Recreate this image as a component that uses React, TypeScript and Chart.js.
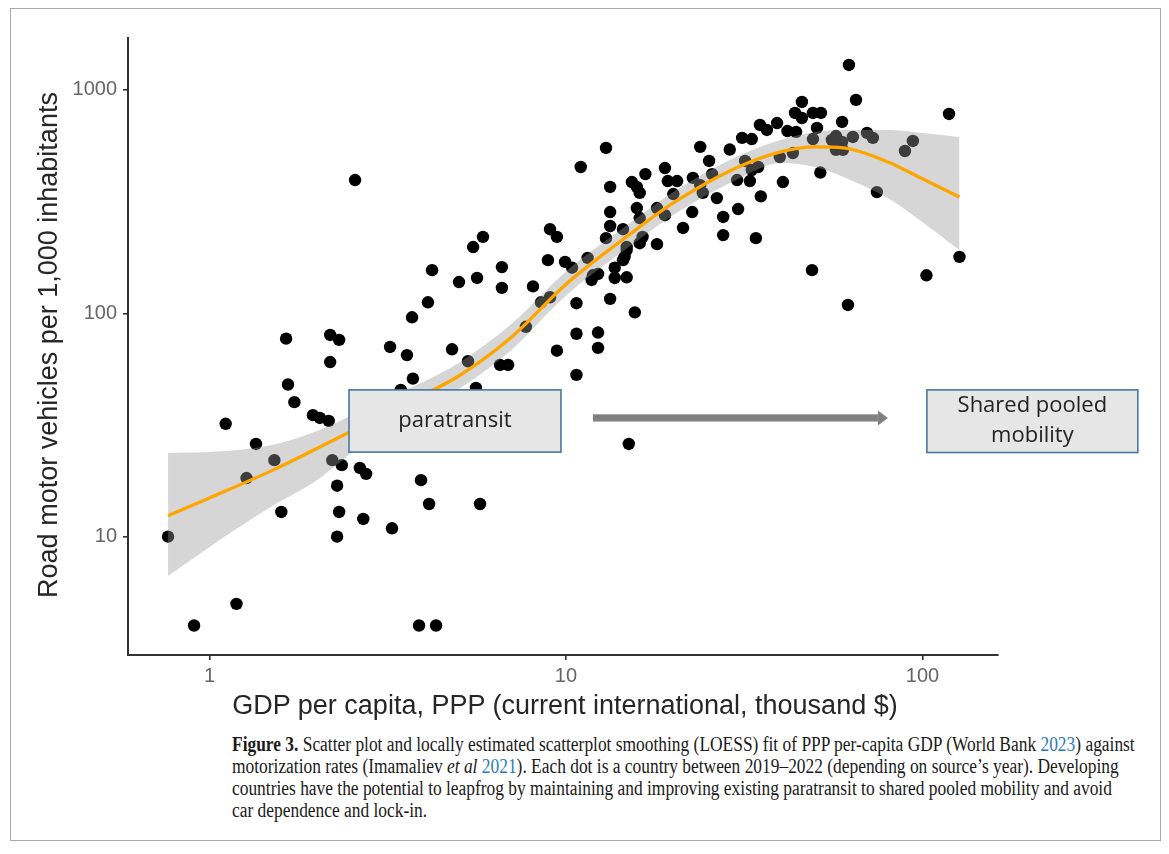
import React, { useEffect, useLayoutEffect, useRef, useState } from 'react';
import { Chart, registerables } from 'chart.js';

Chart.register(...registerables);

// GDP per capita, PPP (thousand $) for each country
const gdp = [
  0.765, 0.905, 1.19, 1.11, 1.35, 1.52, 1.27, 1.59, 1.64, 1.66,
  1.73, 1.95, 2.04, 2.16, 2.18, 2.31, 2.18, 2.28, 2.31, 2.28,
  2.21, 2.35, 2.64, 2.75, 2.7, 3.25, 3.21, 3.58, 3.7, 3.72,
  3.92, 4.13, 5.74, 3.87, 4.32, 4.1, 4.21, 2.56, 3.44, 4.79,
  5.31, 6.53, 6.88, 5.59, 5.01, 5.63, 5.49, 5.85, 6.61, 6.61,
  8.9, 9.94, 10.4, 9.02, 9.43, 8.08, 7.72, 8.51, 9.02, 9.43,
  10.7, 10.7, 10.7, 12.3, 12.3, 15.0, 11.5, 11.9, 12.3, 13.3,
  13.7, 14.8, 12.95, 13.3, 13.3, 14.45, 14.8, 14.45, 12.95, 11.0,
  13.3, 15.8, 16.1, 15.3, 15.8, 16.1, 16.7, 18.95, 19.3, 20.5,
  18.0, 18.95, 16.4, 16.1, 18.0, 14.8, 14.6, 11.8, 15.6, 20.0,
  21.3, 22.6, 22.7, 23.8, 24.2, 25.7, 26.5, 23.8, 25.2, 28.8,
  31.2, 33.2, 35.0, 36.6, 39.1, 41.8, 44.2, 45.9, 43.9, 45.9,
  49.3, 51.9, 50.6, 59.5, 62.2, 65.1, 118.7, 49.3, 57.2, 55.7,
  59.5, 63.8, 69.9, 72.6, 94.0, 89.3, 57.2, 59.8, 43.3, 39.8,
  31.8, 30.2, 33.2, 34.6, 32.8, 40.6, 35.2, 30.4, 27.6, 27.6,
  34.1, 51.7, 74.5, 127, 49.0, 102.6, 61.8, 13.7,
];

// Road motor vehicles per 1,000 inhabitants (same order as gdp)
const vehicles = [
  10, 4.0, 5.0, 32, 26, 22, 18.3, 12.9, 77, 48,
  40, 35, 34, 33, 80, 76, 60.5, 16.9, 12.9, 10.0,
  22, 20.9, 20.3, 19.1, 12.0, 10.9, 70.7, 65, 96, 51,
  17.9, 14.0, 14.0, 4.0, 4.0, 112, 156, 395, 45.4, 69,
  61, 58.7, 58.7, 46.3, 138, 144, 198, 220, 161, 130,
  173, 170, 160, 238, 220, 132, 87, 112, 118, 68,
  81, 53, 111, 82, 70, 26, 177, 148, 150, 116,
  144, 145, 217, 284, 246, 238, 192, 173, 550, 452,
  368, 296, 267, 387, 368, 346, 420, 447, 391, 391,
  296, 275, 220, 206, 204, 198, 179, 141, 101, 342,
  241, 284, 404, 375, 346, 420, 328, 556, 481, 541,
  610, 603, 697, 662, 711, 655, 649, 884, 789, 749,
  789, 789, 676, 719, 1294, 902, 781, 603, 622, 597,
  585, 616, 642, 610, 591, 533, 539, 539, 522, 501,
  481, 395, 438, 452, 391, 387, 334, 293, 270, 224,
  217, 427, 349, 179, 156, 148, 109, 160,
];

// LOESS fit and confidence band
const loessGdp = [0.765, 1, 1.5, 2, 3, 4, 5, 7, 10, 15, 20, 30, 40, 50, 60, 80, 100, 127];
const loessFit = [12.4, 14.9, 19.8, 24.8, 34.3, 43.3, 52.4, 77.8, 135, 224, 312, 447, 528, 556, 550, 476, 400, 332];
const loessLow = [6.66, 8.99, 13.7, 17.9, 29.7, 37.9, 45.8, 68.1, 120, 198, 275.5, 395, 471, 452, 408, 328, 256, 192];
const loessHigh = [23.7, 23.9, 25.7, 29.7, 40.1, 49.5, 59.9, 89, 154, 251, 349, 501, 597, 649, 662, 662, 642, 616];

const xTickValues = [1, 10, 100];
const yTickValues = [10, 100, 1000];

const SANS = '"Liberation Sans", Arial, sans-serif';
const SERIF = '"Liberation Serif", "Times New Roman", serif';
const BOXFONT = '"Open Sans", "Noto Sans", sans-serif';

const annotationPlugin = {
  id: 'leapfrogAnnotations',
  afterDraw(chart: any) {
    const { ctx } = chart;
    const xs = chart.scales.x;
    const ys = chart.scales.y;
    const px = (v: number) => xs.getPixelForValue(v);
    const py = (v: number) => ys.getPixelForValue(v);
    ctx.save();

    const drawBox = (x0: number, x1: number, yTop: number, yBot: number, lines: string[]) => {
      const l = px(x0), r = px(x1), t = py(yTop), b = py(yBot);
      ctx.fillStyle = '#e6e6e6';
      ctx.fillRect(l, t, r - l, b - t);
      ctx.strokeStyle = '#4a77a3';
      ctx.lineWidth = 1.6;
      ctx.strokeRect(l, t, r - l, b - t);
      ctx.fillStyle = '#222222';
      ctx.font = `22px ${BOXFONT}`;
      ctx.textAlign = 'center';
      ctx.textBaseline = 'middle';
      const cx = (l + r) / 2;
      const cy = (t + b) / 2;
      const lh = 30;
      lines.forEach((s, i) => {
        ctx.fillText(s, cx, cy + (i - (lines.length - 1) / 2) * lh);
      });
    };

    drawBox(2.462, 9.68, 45.4, 23.9, ['paratransit']);
    drawBox(102.9, 402, 45.4, 23.8, ['Shared pooled', 'mobility']);

    // arrow
    const ax0 = px(11.9), ax1 = px(80), ay = py(34);
    const headLen = 10, headHalf = 7.5, shaft = 3.6;
    ctx.fillStyle = '#808080';
    ctx.fillRect(ax0, ay - shaft, ax1 - headLen - ax0, shaft * 2);
    ctx.beginPath();
    ctx.moveTo(ax1 - headLen, ay - headHalf);
    ctx.lineTo(ax1, ay);
    ctx.lineTo(ax1 - headLen, ay + headHalf);
    ctx.closePath();
    ctx.fill();

    ctx.restore();
  },
};

function ChartCanvas() {
  const ref = useRef<HTMLCanvasElement | null>(null);
  useEffect(() => {
    if (!ref.current) return;
    const pts = gdp.map((x, i) => ({ x, y: vehicles[i] }));
    const series = (arr: number[]) => loessGdp.map((x, i) => ({ x, y: arr[i] }));
    const chart = new Chart(ref.current, {
      type: 'scatter',
      data: {
        datasets: [
          {
            type: 'line',
            label: 'LOESS',
            data: series(loessFit),
            borderColor: '#FFA500',
            borderWidth: 3.3,
            pointRadius: 0,
            cubicInterpolationMode: 'monotone',
            fill: false,
            order: 0,
          } as any,
          {
            type: 'line',
            label: 'low',
            data: series(loessLow),
            borderColor: 'rgba(0,0,0,0)',
            borderWidth: 0,
            pointRadius: 0,
            cubicInterpolationMode: 'monotone',
            fill: false,
            order: 1,
          } as any,
          {
            type: 'line',
            label: 'high',
            data: series(loessHigh),
            borderColor: 'rgba(0,0,0,0)',
            borderWidth: 0,
            pointRadius: 0,
            cubicInterpolationMode: 'monotone',
            fill: '-1',
            backgroundColor: 'rgba(153,153,153,0.4)',
            order: 1,
          } as any,
          {
            type: 'scatter',
            label: 'countries',
            data: pts,
            pointRadius: 6.2,
            pointBackgroundColor: '#000000',
            backgroundColor: '#000000',
            borderWidth: 0,
            pointBorderWidth: 0,
            order: 2,
          } as any,
        ],
      },
      options: {
        animation: false,
        responsive: false,
        events: [],
        layout: { padding: { left: 28, right: 171, top: 38, bottom: 25 } },
        plugins: { legend: { display: false }, tooltip: { enabled: false } },
        scales: {
          x: {
            type: 'logarithmic',
            min: 0.5906,
            max: 162.9,
            afterBuildTicks: (s: any) => {
              s.ticks = xTickValues.map((v) => ({ value: v }));
            },
            afterFit: (s: any) => {
              s.height = 40;
            },
            ticks: {
              callback: (v: any) => String(v),
              autoSkip: false,
              maxRotation: 0,
              padding: 4,
              color: '#666666',
              font: { family: SANS, size: 20 },
            },
            grid: { display: true, drawOnChartArea: false, drawTicks: true, tickLength: 5, color: '#333333', lineWidth: 1.6 },
            border: { display: true, color: '#333333', width: 2 },
            title: { display: false },
          },
          y: {
            type: 'logarithmic',
            min: 2.951,
            max: 1709,
            afterBuildTicks: (s: any) => {
              s.ticks = yTickValues.map((v) => ({ value: v }));
            },
            afterFit: (s: any) => {
              s.width = 100;
            },
            ticks: {
              callback: (v: any) => String(v),
              autoSkip: false,
              padding: 6,
              color: '#666666',
              font: { family: SANS, size: 20 },
            },
            grid: { display: true, drawOnChartArea: false, drawTicks: true, tickLength: 5, color: '#333333', lineWidth: 1.6 },
            border: { display: true, color: '#333333', width: 2 },
            title: { display: false },
          },
        },
      } as any,
      plugins: [annotationPlugin],
    });
    return () => chart.destroy();
  }, []);
  return (
    <canvas
      ref={ref}
      width={1169}
      height={720}
      style={{ position: 'absolute', left: 0, top: 0, width: 1169, height: 720 }}
    />
  );
}

const blue = { color: '#2a7ab8' };

export default function App() {
  const line1 = useRef<HTMLSpanElement | null>(null);
  const [scale, setScale] = useState(1);
  useLayoutEffect(() => {
    if (line1.current) {
      const w = line1.current.offsetWidth;
      if (w > 0) setScale(903 / w);
    }
  }, []);

  const lineStyle: React.CSSProperties = { height: 22, lineHeight: '22px', whiteSpace: 'nowrap' };

  return (
    <div style={{ position: 'absolute', left: 0, top: 0, width: 1169, height: 854, background: '#ffffff', overflow: 'hidden' }}>
      <div
        style={{
          position: 'absolute',
          left: 10,
          top: 8,
          width: 1151,
          height: 833,
          border: '1.5px solid #a8a8a8',
          boxSizing: 'border-box',
        }}
      />
      <ChartCanvas />
      <div
        style={{
          position: 'absolute',
          left: 48 - 300,
          top: 345 - 17,
          width: 600,
          height: 34,
          lineHeight: '34px',
          textAlign: 'center',
          transform: 'rotate(-90deg)',
          fontFamily: SANS,
          fontSize: 27,
          color: '#262626',
          whiteSpace: 'nowrap',
        }}
      >
        Road motor vehicles per 1,000 inhabitants
      </div>
      <div
        style={{
          position: 'absolute',
          left: 565 - 400,
          top: 705 - 17,
          width: 800,
          height: 34,
          lineHeight: '34px',
          textAlign: 'center',
          fontFamily: SANS,
          fontSize: 27,
          color: '#262626',
          whiteSpace: 'nowrap',
        }}
      >
        GDP per capita, PPP (current international, thousand $)
      </div>
      <div
        style={{
          position: 'absolute',
          left: 232,
          top: 733,
          fontFamily: SERIF,
          fontSize: 20,
          color: '#1a1a1a',
          transformOrigin: 'left top',
          transform: `scaleX(${scale})`,
        }}
      >
        <div style={lineStyle}>
          <span ref={line1} style={{ display: 'inline-block' }}>
            <b>Figure 3.</b> Scatter plot and locally estimated scatterplot smoothing (LOESS) fit of PPP per-capita GDP (World Bank{' '}
            <span style={blue}>2023</span>) against
          </span>
        </div>
        <div style={lineStyle}>
          motorization rates (Imamaliev <i>et al</i> <span style={blue}>2021</span>). Each dot is a country between 2019–2022 (depending on source’s year). Developing
        </div>
        <div style={lineStyle}>
          countries have the potential to leapfrog by maintaining and improving existing paratransit to shared pooled mobility and avoid
        </div>
        <div style={lineStyle}>car dependence and lock-in.</div>
      </div>
    </div>
  );
}
